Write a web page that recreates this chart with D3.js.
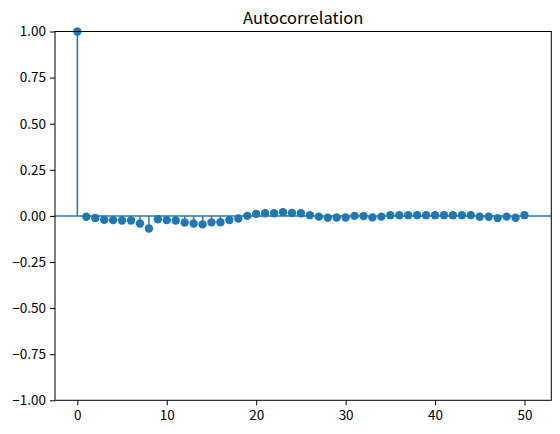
<!DOCTYPE html>
<html><head><meta charset="utf-8">
<script src="https://cdn.jsdelivr.net/npm/d3@7"></script>
<style>
html,body{margin:0;padding:0;background:#fff;}
text{font-family:"Noto Sans CJK JP","Noto Sans",sans-serif;fill:#000;}
</style></head><body>
<svg id="chart" width="560" height="434"></svg>
<script>
const lags = d3.range(0, 51);
const acfValues = [1.0,
 -0.005,-0.011,-0.021,-0.023,-0.025,-0.025,-0.041,-0.068,-0.018,-0.023,
 -0.025,-0.036,-0.041,-0.046,-0.035,-0.034,-0.022,-0.014,0.0,0.011,
 0.014,0.014,0.020,0.016,0.014,0.004,-0.004,-0.010,-0.009,-0.009,
 0.0,-0.001,-0.008,-0.004,0.004,0.004,0.004,0.004,0.004,0.004,
 0.004,0.004,0.004,0.004,-0.005,-0.005,-0.012,-0.004,-0.010,0.004];
const yTicks = [-1.0,-0.75,-0.5,-0.25,0.0,0.25,0.5,0.75,1.0];
const xTicks = [0,10,20,30,40,50];
const title = "Autocorrelation";

const svg = d3.select("#chart");
const L = 55, R = 551.3, T = 31.5, B = 400.3;
const x = d3.scaleLinear().domain([-2.5, 53]).range([L, R]);
const y = d3.scaleLinear().domain([-1, 1]).range([B, T]);
const color = "#1f77b4";

const plot = svg.append("g");
plot.append("line").attr("x1", L).attr("x2", R).attr("y1", y(0)).attr("y2", y(0))
  .attr("stroke", color).attr("stroke-width", 1.5);
plot.selectAll("line.stem").data(lags).join("line").attr("class","stem")
  .attr("x1", d => x(d)).attr("x2", d => x(d))
  .attr("y1", y(0)).attr("y2", d => y(acfValues[d]))
  .attr("stroke", color).attr("stroke-width", 1.5);
plot.selectAll("circle").data(lags).join("circle")
  .attr("cx", d => x(d)).attr("cy", d => y(acfValues[d])).attr("r", 4.2)
  .attr("fill", color);

const fmt = d3.format(".2f");
const yAxis = svg.append("g").attr("transform", `translate(${L},0)`)
  .call(d3.axisLeft(y).tickValues(yTicks).tickFormat(d => fmt(d).replace("-", "\u2212")).tickSize(5).tickPadding(4));
const xAxis = svg.append("g").attr("transform", `translate(0,${B})`)
  .call(d3.axisBottom(x).tickValues(xTicks).tickSize(5).tickPadding(5));
[yAxis, xAxis].forEach(a => {
  a.select(".domain").remove();
  a.selectAll("line").attr("stroke", "#000").attr("stroke-width", 1);
  a.selectAll("text").attr("font-size", 13.5).attr("fill", "#000")
    .attr("font-family", '"Noto Sans CJK JP","Noto Sans",sans-serif');
});
svg.append("rect").attr("x", L).attr("y", T).attr("width", R - L).attr("height", B - T)
  .attr("fill", "none").attr("stroke", "#000").attr("stroke-width", 1);

svg.append("text").attr("x", (L + R) / 2).attr("y", 23.5).attr("text-anchor", "middle")
  .attr("font-size", 16.5).text(title);
</script></body></html>
